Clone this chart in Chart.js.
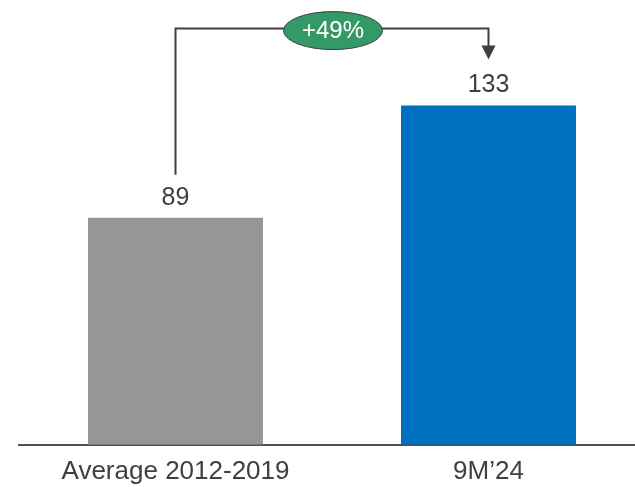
<!DOCTYPE html>
<html>
<head>
<meta charset="utf-8">
<script src="https://cdn.jsdelivr.net/npm/chart.js@4"></script>
<style>
	html, body { margin: 0; padding: 0; background: #fff; overflow: hidden; }
	#wrap { width: 645px; height: 498px; }
</style>
</head>
<body>
<div id="wrap"><canvas id="myChart" width="645" height="498"></canvas></div>
<script>
const categories = ['Average 2012-2019', '9M\u201924'];
const values = [89, 133];
const barColors = ['#969696', '#0070C0'];
const changeLabel = '+49%';

const FONT = '"Liberation Sans", Arial, sans-serif';

// draws value labels and the +49% bracket between the two bars
const bracketPlugin = {
	id: 'bracket',
	afterDatasetsDraw(chart) {
		const ctx = chart.ctx;
		const meta = chart.getDatasetMeta(0);
		const b1 = meta.data[0], b2 = meta.data[1];

		ctx.save();
		ctx.fillStyle = '#404040';
		ctx.font = '25px ' + FONT;
		ctx.textAlign = 'center';
		ctx.textBaseline = 'middle';
		meta.data.forEach((bar, i) => {
			ctx.fillText(String(values[i]), bar.x, bar.y - 20);
		});

		const topY = b2.y - 77;
		ctx.strokeStyle = '#404040';
		ctx.lineWidth = 2;
		ctx.beginPath();
		ctx.moveTo(b1.x, b1.y - 43);
		ctx.lineTo(b1.x, topY);
		ctx.lineTo(b2.x, topY);
		ctx.lineTo(b2.x, b2.y - 56);
		ctx.stroke();

		// arrow head
		ctx.fillStyle = '#404040';
		ctx.beginPath();
		ctx.moveTo(b2.x - 7, b2.y - 60);
		ctx.lineTo(b2.x + 7, b2.y - 60);
		ctx.lineTo(b2.x, b2.y - 46);
		ctx.closePath();
		ctx.fill();

		// green ellipse
		const cx = (b1.x + b2.x) / 2 + 1;
		ctx.beginPath();
		ctx.ellipse(cx, topY + 2, 49.5, 19, 0, 0, Math.PI * 2);
		ctx.fillStyle = '#339966';
		ctx.fill();
		ctx.lineWidth = 1;
		ctx.strokeStyle = '#404040';
		ctx.stroke();

		ctx.fillStyle = '#ffffff';
		ctx.font = '24px ' + FONT;
		ctx.fillText(changeLabel, cx, topY + 3);
		ctx.restore();
	}
};

window.onload = () => {
	const ctx = document.getElementById('myChart').getContext('2d');
	new Chart(ctx, {
		type: 'bar',
		data: {
			labels: categories,
			datasets: [{
				data: values,
				backgroundColor: barColors,
				borderWidth: 0,
				categoryPercentage: 1,
				barPercentage: 0.559
			}]
		},
		options: {
			responsive: false,
			animation: false,
			layout: { padding: { left: 19, right: 0, top: 0, bottom: 0 } },
			plugins: {
				legend: { display: false },
				tooltip: { enabled: false }
			},
			scales: {
				x: {
					grid: { display: false, drawTicks: false, tickLength: 0 },
					border: { display: true, color: '#505050', width: 2 },
					ticks: {
						padding: 11,
						color: '#404040',
						font: { family: FONT, size: 26 }
					}
				},
				y: {
					display: false,
					min: 0,
					max: 174.4
				}
			}
		},
		plugins: [bracketPlugin]
	});
};
</script>
</body>
</html>
